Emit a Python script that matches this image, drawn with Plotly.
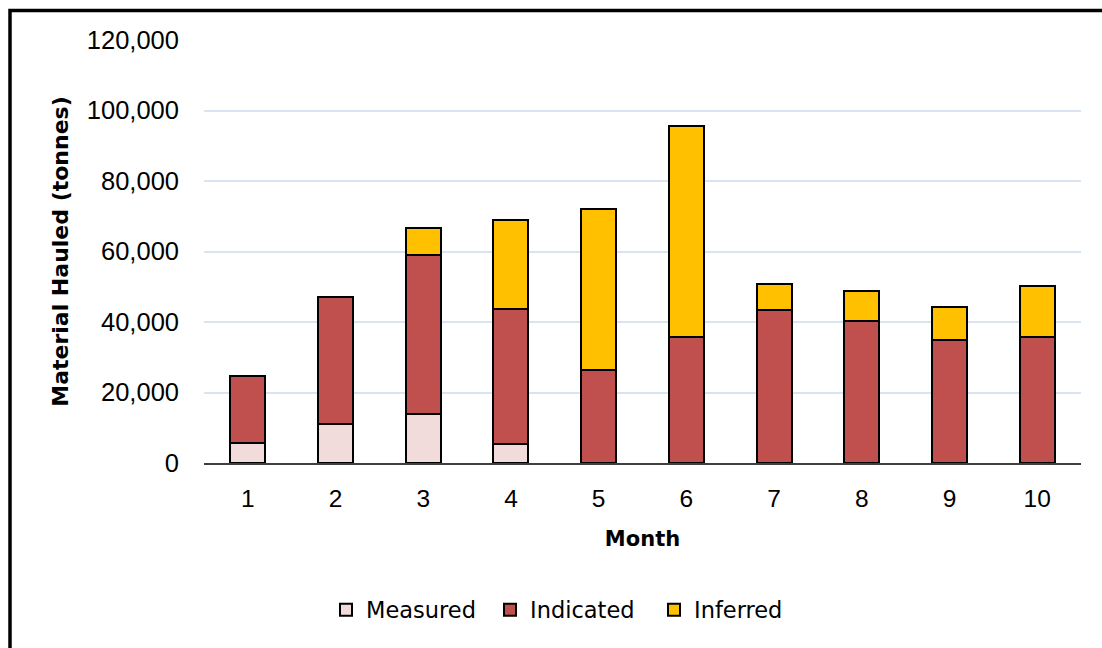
import plotly.graph_objects as go

# Monthly haulage split by resource classification (tonnes)
months = ["1", "2", "3", "4", "5", "6", "7", "8", "9", "10"]
measured = [5800, 11200, 14000, 5300, None, None, None, None, None, None]
indicated = [19000, 35800, 45000, 38400, 26300, 35800, 43400, 40300, 34900, 35700]
inferred = [None, None, 7800, 25300, 45800, 59900, 7400, 8600, 9300, 14600]

y_ticks = [0, 20000, 40000, 60000, 80000, 100000, 120000]

series = [
    ("Measured", measured, "#F2DCDB"),
    ("Indicated", indicated, "#C0504D"),
    ("Inferred", inferred, "#FFC000"),
]

fig = go.Figure()
for name, vals, color in series:
    fig.add_trace(go.Bar(
        x=months, y=vals, name=name,
        marker=dict(color=color, line=dict(color="#000000", width=2)),
    ))

W, H = 1102, 648
L, R, T, B = 204, 21, 40, 185
pw, ph = W - L - R, H - T - B

def px(x):
    return (x - L) / pw

def py(y):
    return (H - B - y) / ph

title_font = "DejaVu Sans, Verdana, sans-serif"

fig.update_layout(
    width=W, height=H,
    margin=dict(l=L, r=R, t=T, b=B),
    barmode="stack", bargap=0.6,
    paper_bgcolor="white", plot_bgcolor="white",
    font=dict(family="Liberation Sans, Arial, sans-serif", size=24, color="#000000"),
    showlegend=True,
    legend=dict(
        orientation="h", x=px(326), xanchor="left", y=py(610), yanchor="middle",
        font=dict(family=title_font, size=22.5, color="#000000"),
        traceorder="normal", itemwidth=30, entrywidth=119,
    ),
    xaxis=dict(
        type="category", showgrid=False, zeroline=False,
        showline=True, linecolor="#404040", linewidth=1.5,
        ticks="", ticklabelstandoff=13,
        tickfont=dict(size=24.5),
        title=dict(text="<b>Month</b>", standoff=20,
                   font=dict(family=title_font, size=21)),
    ),
    yaxis=dict(
        range=[0, 120000], tickvals=y_ticks, tickformat=",d",
        showgrid=True, gridcolor="#D9E3F1", gridwidth=1.5,
        zeroline=False, showline=False, ticks="", ticklabelstandoff=24,
        tickfont=dict(size=25.5),
        title=dict(text="<b>Material Hauled (tonnes)</b>", standoff=12,
                   font=dict(family=title_font, size=22)),
    ),
    shapes=[dict(
        type="rect", xref="paper", yref="paper", layer="above",
        x0=px(10), x1=px(1115), y0=py(660), y1=py(10.5),
        line=dict(color="#000000", width=3.5), fillcolor="rgba(0,0,0,0)",
    )],
)

fig.write_html("out.html")
